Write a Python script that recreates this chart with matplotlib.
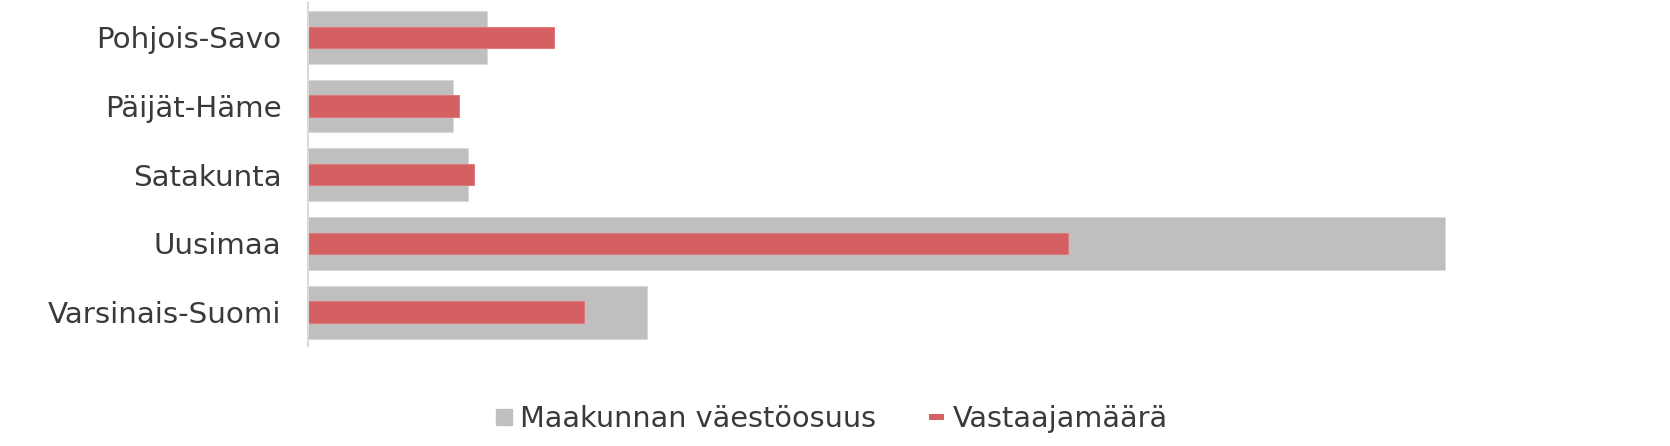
import matplotlib
matplotlib.use("Agg")
import matplotlib.pyplot as plt
from matplotlib.lines import Line2D
import numpy as np

# maakunnat ylhäältä alas
maakunnat = ["Pohjois-Savo", "Päijät-Häme", "Satakunta", "Uusimaa", "Varsinais-Suomi"]
vaestoosuus = [4.8, 3.9, 4.3, 30.5, 9.1]      # harmaa, %
vastaajat = [6.6, 4.05, 4.45, 20.4, 7.4]      # punainen, %

harmaa = "#bfbfbf"
punainen = "#d46062"
teksti = "#3a3a3a"

fig = plt.figure(figsize=(16.7, 4.46), dpi=100)
ax = fig.add_axes([0.1844, 0.2231, 0.8036, 0.7702])

y = np.arange(len(maakunnat))
ax.barh(y, vaestoosuus, height=0.77, color=harmaa, edgecolor="#d9d9d9", linewidth=0.7)
ax.barh(y, vastaajat, height=0.31, color=punainen, edgecolor="#e07a7c", linewidth=0.7)

ax.set_xlim(0, 36)
ax.set_ylim(len(maakunnat) - 0.5, -0.5)
ax.set_yticks(y)
ax.set_yticklabels(maakunnat, fontsize=21.2, color=teksti)
ax.tick_params(axis="y", length=0, pad=19)
ax.set_xticks([])
for s in ["top", "right", "bottom"]:
    ax.spines[s].set_visible(False)
ax.spines["left"].set_color("#d9d9d9")
ax.spines["left"].set_linewidth(1.5)

kahvat = [
    Line2D([], [], marker="s", markersize=11, color=harmaa, linestyle="none"),
    Line2D([], [], color=punainen, linewidth=4.3, solid_capstyle="butt"),
]
leg = fig.legend(kahvat, ["Maakunnan väestöosuus", "Vastaajamäärä"],
                 loc="center", bbox_to_anchor=(832 / 1670, 1 - 419 / 446),
                 ncol=2, frameon=False, fontsize=20.7, handlelength=0.52,
                 handletextpad=0.3, columnspacing=1.85)
for t in leg.get_texts():
    t.set_color(teksti)

fig.savefig("out.png", dpi=100)
